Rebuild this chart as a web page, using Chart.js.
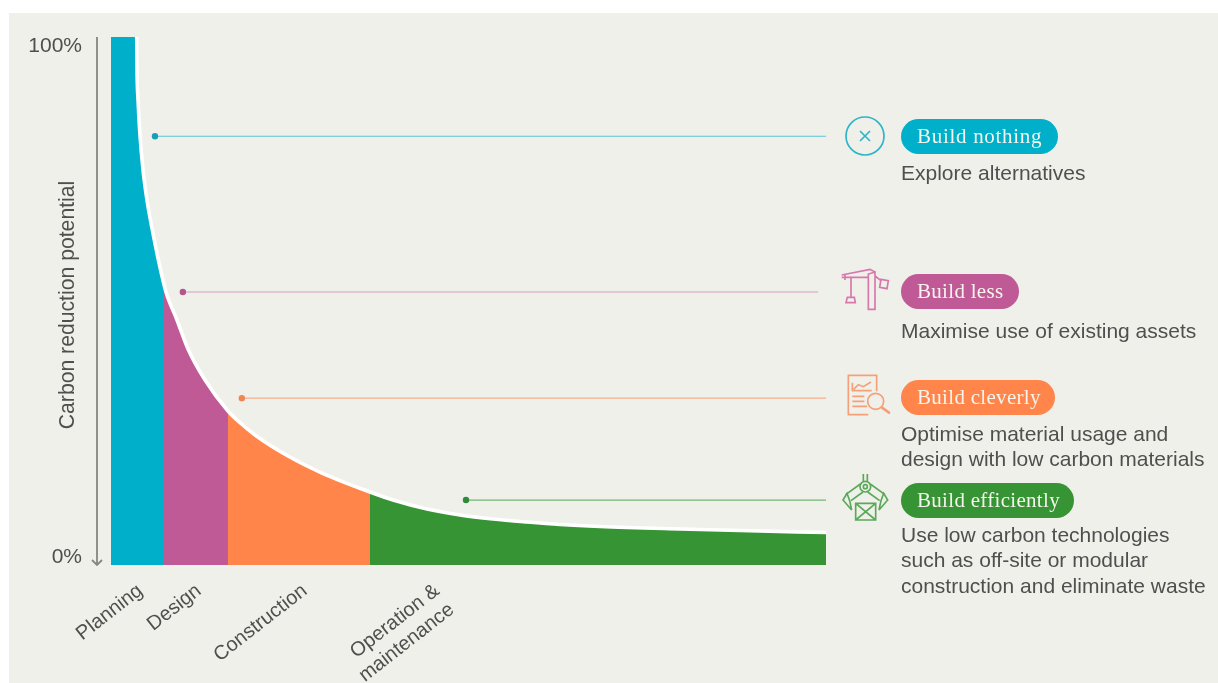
<!DOCTYPE html>
<html>
<head>
<meta charset="utf-8">
<title>Carbon reduction potential</title>
<script src="https://cdn.jsdelivr.net/npm/chart.js@4"></script>
<style>
  html, body { margin: 0; padding: 0; background: #fff; }
  #page { position: relative; width: 1218px; height: 683px; overflow: hidden; }
  #panel { position: absolute; left: 9px; top: 13px; right: 0; bottom: 0; background: #f0f0ea; }
  #chart { position: absolute; left: 0; top: 0; }
  .pill {
    position: absolute; left: 901px; height: 35px; border-radius: 18px; white-space: nowrap;
    color: #f4f4ec; font: 21px/35px "Liberation Serif", serif; letter-spacing: 0.3px;
    padding-left: 16px; box-sizing: border-box;
  }
  .note {
    position: absolute; left: 901px; color: #4f4f4f; white-space: nowrap;
    font: 21px/25.4px "Liberation Sans", Arial, sans-serif;
  }
  .icon { position: absolute; width: 65px; height: 60px; fill: none; stroke-width: 5; }
</style>
</head>
<body>
<div id="page">
  <div id="panel"></div>
  <canvas id="chart" width="1218" height="683"></canvas>

  <svg class="icon" style="left:835px;top:106px" viewBox="0 0 195 180" stroke="#2bb5c8">
    <circle cx="90" cy="90" r="57"/>
    <path d="M75 75L105 105M105 75L75 105"/>
  </svg>
  <div class="pill" style="top:119px;width:157px;background:#00b0cb;letter-spacing:0.7px">Build nothing</div>
  <div class="note" style="top:160px">Explore alternatives</div>

  <svg class="icon" style="left:835px;top:260px" viewBox="0 0 195 180" stroke="#d678ac">
    <path d="M100 148V42L120 36V148ZM20 45L105 28L120 36M20 52H100M120 48L138 62"/>
    <path d="M138 58L160 62L156 86L134 82Z"/>
    <path d="M30 45V60M48 50V110M33 128L37 112H58L61 128Z"/>
  </svg>
  <div class="pill" style="top:274px;width:118px;background:#c05a96">Build less</div>
  <div class="note" style="top:318px">Maximise use of existing assets</div>

  <svg class="icon" style="left:835px;top:368px" viewBox="0 0 195 180" stroke="#f5a078">
    <path d="M100 140H40V22H125V70"/>
    <path d="M52 44V68H110M56 64L70 50L85 56L108 42M52 85H88M52 100H88M52 115H96"/>
    <circle cx="122" cy="100" r="24"/>
    <path d="M140 118L162 134" stroke-width="8" stroke-linecap="round"/>
  </svg>
  <div class="pill" style="top:380px;width:154px;background:#ff854b">Build cleverly</div>
  <div class="note" style="top:421px">Optimise material usage and<br>design with low carbon materials</div>

  <svg class="icon" style="left:835px;top:470px" viewBox="0 0 195 180" stroke="#5aa958">
    <path d="M85 12V34M97 12V34"/>
    <circle cx="91" cy="50" r="16"/><circle cx="91" cy="50" r="6"/>
    <path d="M76 42L32 74M84 66L48 92M106 42L150 74M98 66L134 92"/>
    <path d="M36 70L24 90L50 120L44 92ZM146 70L158 90L132 120L138 92Z"/>
    <path d="M62 100H122V150H62ZM62 100L122 150M122 100L62 150"/>
  </svg>
  <div class="pill" style="top:483px;width:173px;background:#379434">Build efficiently</div>
  <div class="note" style="top:522px">Use low carbon technologies<br>such as off-site or modular<br>construction and eliminate waste</div>
</div>

<script>
'use strict';

// Stage of the project, as % of the horizontal axis
var curveX = [0, 3.6, 3.64, 3.78, 4.06, 4.48, 5.03, 5.73, 6.57, 7.69, 9.23, 10.77, 13.15, 16.36, 18.18,
  20.14, 24.76, 29.51, 36.22, 39.44, 44.2, 48.81, 53.43, 58.18, 62.8, 68.39, 79.58, 87.97, 100];
// Carbon reduction potential at each of those stages, in %
var curveY = [100, 100, 93.75, 88.07, 81.25, 74.81, 69.13, 63.83, 58.14, 51.7, 46.4, 40.91, 35.04, 29.17, 26.8,
  24.62, 20.64, 17.42, 13.83, 12.31, 10.61, 9.47, 8.71, 8.14, 7.67, 7.29, 6.82, 6.53, 6.16];

var stageNames = ['Planning', 'Design', 'Construction', ['Operation &', 'maintenance']];
var stageEnds = [7.41, 16.36, 36.22, 100];
var stageColors = ['#00b0cb', '#c05a96', '#ff854b', '#379434'];
var stageTicks = [4.1, 12.3, 27.1, 45.6];

var yTickValues = [100, 0];
var yTickLabels = ['100%', '0%'];
var yTitle = 'Carbon reduction potential';

// Leader lines running from the curve to the callouts
var leaderStarts = [6.15, 10.05, 18.3, 49.65];
var leaderEnds = [100, 98.9, 100, 100];
var leaderValues = [81.2, 51.7, 31.6, 12.3];
var leaderColors = ['#58c6d4', '#d79ac0', '#f9ae88', '#74b472'];
var leaderDots = ['#1a9db5', '#b5558c', '#f08550', '#2f8a3c'];

var TEXT_COLOR = '#4f4f4f';
var SANS = '"Liberation Sans", Arial, sans-serif';

function curvePoints(from, to) {
  var points = [];
  curveX.forEach(function (x, i) {
    if (x >= from && x <= to) {
      points.push({ x: x, y: curveY[i] });
    }
  });
  return points;
}

// The curve has no sample on the stage boundaries, so add one there.
function valueAt(x) {
  for (var i = 1; i < curveX.length; i++) {
    if (x <= curveX[i]) {
      var t = (x - curveX[i - 1]) / (curveX[i] - curveX[i - 1]);
      return curveY[i - 1] + t * (curveY[i] - curveY[i - 1]);
    }
  }
  return curveY[curveY.length - 1];
}

function stageDataset(index) {
  // Each stage starts a hair under the previous one so no seam shows between the fills.
  var from = index === 0 ? 0 : stageEnds[index - 1] - 0.1;
  var to = stageEnds[index];
  var points = curvePoints(from, to);
  if (points[0].x !== from) points.unshift({ x: from, y: valueAt(from) });
  if (points[points.length - 1].x !== to) points.push({ x: to, y: valueAt(to) });
  return {
    data: points,
    fill: 'origin',
    backgroundColor: stageColors[index],
    borderWidth: 0,
    pointRadius: 0,
    order: 3
  };
}

function leaderDataset(index) {
  return {
    data: [
      { x: leaderStarts[index], y: leaderValues[index] },
      { x: leaderEnds[index], y: leaderValues[index] }
    ],
    borderColor: leaderColors[index],
    borderWidth: 1.2,
    pointRadius: [3.2, 0],
    pointBackgroundColor: leaderDots[index],
    pointBorderWidth: 0,
    order: 1
  };
}

var datasets = stageNames.map(function (name, i) {
  return stageDataset(i);
});

// White edge along the top of the filled stages
datasets.push({
  data: curvePoints(curveX[1], 100),
  borderColor: '#ffffff',
  borderWidth: 3.6,
  pointRadius: 0,
  order: 2,
  clip: false
});

leaderValues.forEach(function (value, i) {
  datasets.push(leaderDataset(i));
});

// Down arrow, 100% / 0% labels and the axis title sit left of the plot area
var valueAxisPlugin = {
  id: 'valueAxis',
  afterDraw: function (chart) {
    var ctx = chart.ctx,
        y = chart.scales.y,
        top = y.getPixelForValue(100),
        bottom = y.getPixelForValue(0),
        axisX = 97;

    ctx.save();
    ctx.strokeStyle = '#868682';
    ctx.lineWidth = 1.8;
    ctx.beginPath();
    ctx.moveTo(axisX, top);
    ctx.lineTo(axisX, bottom);
    ctx.moveTo(axisX - 5, bottom - 5);
    ctx.lineTo(axisX, bottom);
    ctx.lineTo(axisX + 5, bottom - 5);
    ctx.stroke();

    ctx.fillStyle = TEXT_COLOR;
    ctx.font = '21px ' + SANS;
    ctx.textAlign = 'right';
    ctx.textBaseline = 'alphabetic';
    yTickValues.forEach(function (value, i) {
      var offset = i === 0 ? 15 : -2;
      ctx.fillText(yTickLabels[i], 82, y.getPixelForValue(value) + offset);
    });

    ctx.font = '21.2px ' + SANS;
    ctx.translate(74, 305);
    ctx.rotate(-Math.PI / 2);
    ctx.textAlign = 'center';
    ctx.fillText(yTitle, 0, 0);
    ctx.restore();
  }
};

new Chart(document.getElementById('chart').getContext('2d'), {
  type: 'line',
  data: { datasets: datasets },
  plugins: [valueAxisPlugin],
  options: {
    responsive: false,
    animation: false,
    events: [],
    layout: { padding: { left: 111, top: 37, right: 392, bottom: 0 } },
    plugins: { legend: { display: false }, tooltip: { enabled: false } },
    elements: { line: { cubicInterpolationMode: 'monotone' } },
    scales: {
      x: {
        type: 'linear',
        min: 0,
        max: 100,
        grid: { display: false },
        border: { display: false },
        afterBuildTicks: function (scale) {
          scale.ticks = stageTicks.map(function (value) {
            return { value: value };
          });
        },
        afterFit: function (scale) {
          scale.height = 118;
        },
        ticks: {
          autoSkip: false,
          minRotation: 38,
          maxRotation: 38,
          padding: 6,
          color: TEXT_COLOR,
          font: { family: SANS, size: 20 },
          callback: function (value, index) {
            return stageNames[index];
          }
        }
      },
      y: {
        display: false,
        min: 0,
        max: 100
      }
    }
  }
});
</script>
</body>
</html>
